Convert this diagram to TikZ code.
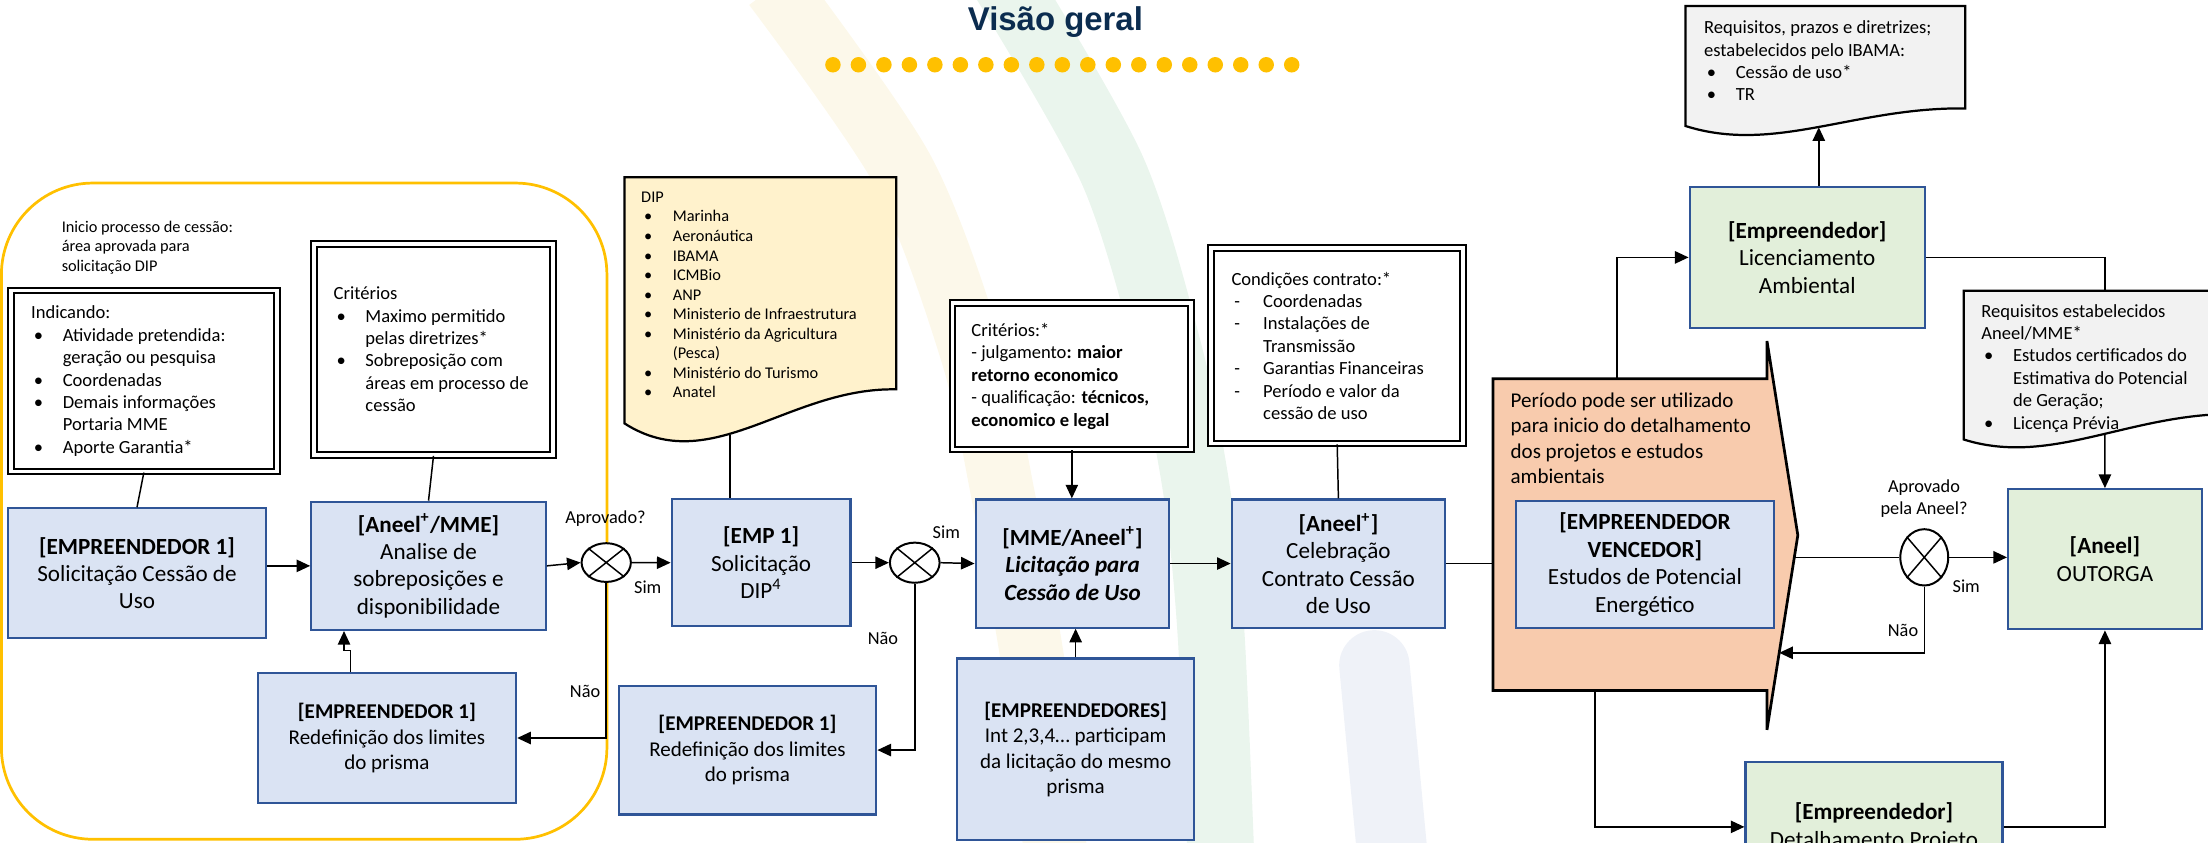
\documentclass[tikz,border=0pt]{standalone}
\usepackage{fontspec}
\setmainfont{Carlito}
\newfontfamily\headfont{Liberation Sans}
\usetikzlibrary{arrows.meta,positioning,shapes.geometric}

\definecolor{boxblue}{HTML}{DAE3F3}
\definecolor{boxgreen}{HTML}{E2EFDA}
\definecolor{boxorange}{HTML}{F8CBAD}
\definecolor{edgeblue}{HTML}{2F5597}
\definecolor{docyellow}{HTML}{FFF2CC}
\definecolor{docgray}{HTML}{F2F2F2}
\definecolor{goldline}{HTML}{FFC000}
\definecolor{navy}{HTML}{0B2C4F}
\definecolor{bandyellow}{HTML}{FCF8EA}
\definecolor{bandgreen}{HTML}{EAF5ED}
\definecolor{bandblue}{HTML}{EFF2F8}

\newcommand{\boxsize}{\fontsize{9.35}{11.1}\selectfont}
\newcommand{\redefsize}{\fontsize{8.5}{10.3}\selectfont}
\newcommand{\listsize}{\fontsize{7.5}{9.05}\selectfont}
\newcommand{\smallsize}{\fontsize{6.6}{7.9}\selectfont}
\newcommand{\notesize}{\fontsize{8.5}{10.3}\selectfont}
\newcommand{\tagsize}{\fontsize{7.4}{9}\selectfont}
\newcommand{\bul}{\makebox[0.45cm][l]{\hspace{0.04cm}\textbullet}}
\newcommand{\dsh}{\makebox[0.45cm][l]{\hspace{0.04cm}-}}
\newcommand{\ind}{\hspace*{0.45cm}}

\begin{document}
\begin{tikzpicture}[
    box/.style={draw=edgeblue, line width=0.9pt, fill=#1, font=\boxsize,
                align=center, inner sep=1pt},
    notebox/.style={draw, double, double distance=1.5pt, line width=0.8pt, fill=white},
    note/.style={font=\listsize, align=left, inner sep=0pt, anchor=west},
    doc/.style={draw, line width=0.9pt, fill=#1},
    decision/.style={draw, ellipse, line width=0.8pt, fill=white, inner sep=0pt},
    tag/.style={font=\tagsize, inner sep=0pt},
    link/.style={line width=0.6pt},
    arrow/.style={-{Triangle[length=5.5pt, width=5pt]}, line width=0.6pt},
  ]
    \useasboundingbox (0,0) rectangle (31.36,-11.96);
    \clip (0,0) rectangle (31.36,-11.96);

    % Background swooshes
    \draw[bandyellow, line width=0.9cm] plot[smooth] coordinates
      {(11.0,0.2) (12.82,-2.42) (13.8,-5.0) (14.24,-7.0) (14.7,-9.6) (15.0,-12.2)};
    \draw[bandgreen, line width=0.95cm] plot[smooth] coordinates
      {(14.25,0.3) (15.8,-2.42) (16.6,-5.0) (17.0,-7.0) (17.2,-9.0) (17.34,-12.2)};
    \draw[bandblue, line width=1cm, line cap=round] (19.52,-9.45) -- (19.8,-12.4);

    % Title
    \node[font=\headfont\bfseries\fontsize{13.3}{16}\selectfont, text=navy, anchor=base]
      (title) at (14.99,-0.43) {Visão geral};
    \foreach \i in {0,...,18}
      \fill[goldline] ({11.83+0.362*\i},-0.92) circle (0.11);

    % Start of the process (yellow frame)
    \draw[goldline, line width=1.1pt, rounded corners=1.3cm] (0.02,-2.6) rectangle (8.62,-11.92);
    \node[note, font=\smallsize] (start) at (0.87,-3.514)
      {Inicio processo de cessão:\\ área aprovada para\\ solicitação DIP};

    \node[notebox, minimum width=3.78cm, minimum height=2.57cm] (indic) at (2.043,-5.413) {};
    \node[note] at ([xshift=0.296cm]indic.west)
      {Indicando:\\ \bul Atividade pretendida:\\ \ind geração ou pesquisa\\ \bul Coordenadas\\
       \bul Demais informações\\ \ind Portaria MME\\ \bul Aporte Garantia*};

    \node[notebox, minimum width=3.40cm, minimum height=3.00cm] (crit1) at (6.157,-4.961) {};
    \node[note] at ([xshift=0.29cm]crit1.west)
      {Critérios\\ \bul Maximo permitido\\ \ind pelas diretrizes*\\ \bul Sobreposição com\\
       \ind áreas em processo de\\ \ind cessão};

    \node[box=boxblue, minimum width=3.67cm, minimum height=1.84cm] (emp1) at (1.946,-8.14)
      {\textbf{[EMPREENDEDOR 1]}\\Solicitação Cessão de\\Uso};
    \node[box=boxblue, minimum width=3.33cm, minimum height=1.82cm] (aneel1) at (6.086,-8.037)
      {\textbf{[Aneel\textsuperscript{+}/MME]}\\Analise de\\sobreposições e\\disponibilidade};
    \node[box=boxblue, font=\redefsize, minimum width=3.67cm, minimum height=1.84cm]
      (redef1) at (5.495,-10.482) {\textbf{[EMPREENDEDOR 1]}\\Redefinição dos limites\\do prisma};
    \node[decision, minimum width=0.70cm, minimum height=0.55cm] (chk1) at (8.61,-7.99) {};
    \draw[link] (chk1.north east) -- (chk1.south west) (chk1.north west) -- (chk1.south east);

    % DIP request
    \draw[doc=docyellow] (8.87,-2.518) -- (12.728,-2.518) -- (12.728,-5.53)
      .. controls (11.2,-5.5) and (10.1,-6.8) .. (8.87,-6.014) -- cycle;
    \coordinate (dipfoot) at (10.366,-6.176);
    \node[note, font=\smallsize] (diplist) at (9.10,-4.19)
      {DIP\\ \bul Marinha\\ \bul Aeronáutica\\ \bul IBAMA\\ \bul ICMBio\\ \bul ANP\\
       \bul Ministerio de Infraestrutura\\ \bul Ministério da Agricultura\\ \ind (Pesca)\\
       \bul Ministério do Turismo\\ \bul Anatel};

    \node[box=boxblue, minimum width=2.54cm, minimum height=1.80cm] (dipreq) at (10.81,-7.992)
      {\textbf{[EMP 1]}\\Solicitação\\DIP\textsuperscript{4}};
    \node[box=boxblue, font=\redefsize, minimum width=3.66cm, minimum height=1.83cm]
      (redef2) at (10.616,-10.653) {\textbf{[EMPREENDEDOR 1]}\\Redefinição dos limites\\do prisma};
    \node[decision, minimum width=0.706cm, minimum height=0.57cm] (chk2) at (12.992,-7.992) {};
    \draw[link] (chk2.north east) -- (chk2.south west) (chk2.north west) -- (chk2.south east);

    % Bidding
    \node[notebox, minimum width=3.39cm, minimum height=2.08cm] (crit2) at (15.223,-5.344) {};
    \node[note] at ([xshift=0.276cm]crit2.west)
      {Critérios:*\\ - julgamento\textbf{: maior}\\ \textbf{retorno economico}\\
       - qualificação: \textbf{técnicos,}\\ \textbf{economico e legal}};
    \node[box=boxblue, minimum width=2.75cm, minimum height=1.82cm] (licit) at (15.233,-8.004)
      {\textbf{[MME/Aneel\textsuperscript{+}]}\\\textbf{\textit{Licitação para}}\\\textbf{\textit{Cessão de Uso}}};
    \node[box=boxblue, font=\redefsize, minimum width=3.37cm, minimum height=2.58cm]
      (bidders) at (15.277,-10.642)
      {\textbf{[EMPREENDEDORES]}\\Int 2,3,4… participam\\da licitação do mesmo\\prisma};

    % Contract
    \node[notebox, minimum width=3.58cm, minimum height=2.77cm] (cond) at (18.992,-4.912) {};
    \node[note] at ([xshift=0.296cm]cond.west)
      {Condições contrato:*\\ \dsh Coordenadas\\ \dsh Instalações de\\ \ind Transmissão\\
       \dsh Garantias Financeiras\\ \dsh Período e valor da\\ \ind cessão de uso};
    \node[box=boxblue, minimum width=3.03cm, minimum height=1.82cm] (contract) at (19.009,-8.004)
      {\textbf{[Aneel\textsuperscript{+}]}\\Celebração\\Contrato Cessão\\de Uso};

    % Studies period
    \draw[fill=boxorange, line width=1.1pt] (21.206,-5.378) -- (25.096,-5.378) -- (25.096,-4.844)
      -- (25.534,-7.602) -- (25.096,-10.366) -- (25.096,-9.806) -- (21.206,-9.806) -- cycle;
    \coordinate (oleft)  at (21.206,-8.004);
    \coordinate (otop)   at (22.966,-5.378);
    \coordinate (obot)   at (22.656,-9.806);
    \coordinate (oright) at (25.484,-7.916);
    \coordinate (oback)  at (25.27,-9.272);
    \node[note, font=\notesize] (period) at (21.448,-6.224)
      {Período pode ser utilizado\\ para inicio do detalhamento\\ dos projetos e estudos\\ ambientais};
    \node[box=boxblue, minimum width=3.66cm, minimum height=1.81cm] (winner) at (23.362,-8.018)
      {\textbf{[EMPREENDEDOR}\\\textbf{VENCEDOR]}\\Estudos de Potencial\\Energético};

    % Licensing and grant
    \draw[doc=docgray] (23.94,-0.086) -- (27.912,-0.086) -- (27.912,-1.54)
      .. controls (26.34,-1.52) and (25.2,-2.19) .. (23.94,-1.79) -- cycle;
    \coordinate (ibfoot) at (25.832,-1.808);
    \node[note] (ibama) at (24.196,-0.864)
      {Requisitos, prazos e diretrizes;\\ estabelecidos pelo IBAMA:\\ \bul Cessão de uso*\\ \bul TR};
    \node[box=boxgreen, minimum width=3.34cm, minimum height=2.01cm] (license) at (25.668,-3.656)
      {\textbf{[Empreendedor]}\\Licenciamento\\Ambiental};

    \draw[doc=docgray] (27.89,-4.13) -- (31.83,-4.13) -- (31.83,-5.88)
      .. controls (30.28,-5.84) and (29.15,-6.64) .. (27.89,-6.242) -- cycle;
    \coordinate (antop)  at (29.894,-4.13);
    \coordinate (anfoot) at (29.894,-6.18);
    \node[note] (aneelreq) at (28.134,-5.23)
      {Requisitos estabelecidos\\ Aneel/MME*\\ \bul Estudos certificados do\\
       \ind Estimativa do Potencial\\ \ind de Geração;\\ \bul Licença Prévia};

    \node[decision, minimum width=0.68cm, minimum height=0.80cm] (chk3) at (27.33,-7.916) {};
    \draw[link] (chk3.north east) -- (chk3.south west) (chk3.north west) -- (chk3.south east);
    \node[box=boxgreen, minimum width=2.75cm, minimum height=1.99cm] (grant) at (29.896,-7.943)
      {\textbf{[Aneel]}\\OUTORGA};
    \node[box=boxgreen, minimum width=3.65cm, minimum height=1.84cm] (design) at (26.616,-11.744)
      {\textbf{[Empreendedor]}\\Detalhamento Projeto};

    % Arrows
    \draw[link] (indic.south) -- (emp1.north);
    \draw[link] (crit1.south) -- (aneel1.north);
    \draw[arrow] (emp1.east |- aneel1.west) -- (aneel1.west);
    \draw[arrow] (aneel1.east) -- (chk1.west);
    \draw[arrow] (chk1.east) -- (dipreq.west);
    \draw[arrow] (chk1.south) |- (redef1.east);
    \draw[arrow] ([xshift=-0.515cm]redef1.north) -- ++(0,0.31) -| ([xshift=-1.2cm]aneel1.south);
    \draw[link] (dipfoot) -- (dipfoot |- dipreq.north);
    \draw[arrow] (dipreq.east) -- (chk2.west);
    \draw[arrow] (chk2.east) -- (licit.west);
    \draw[arrow] (chk2.south) |- (redef2.east);
    \draw[arrow] (crit2.south) -- (crit2.south |- licit.north);
    \draw[arrow] (bidders.north) -- (bidders.north |- licit.south);
    \draw[arrow] (licit.east) -- (contract.west);
    \draw[link] (cond.south) -- (contract.north);
    \draw[link] (contract.east) -- (oleft);
    \draw[arrow] (otop) |- (license.west);
    \draw[arrow] (license.north -| ibfoot) -- (ibfoot);
    \draw[link] (license.east) -| (antop);
    \draw[arrow] (anfoot) -- (grant.north);
    \draw[link] (oright) -- (chk3.west);
    \draw[arrow] (chk3.east) -- (chk3.east -| grant.west);
    \draw[arrow] (chk3.south) |- (oback);
    \draw[arrow] (obot) |- (design.west);
    \draw[arrow] (design.east) -| (grant.south);

    % Labels
    \node[tag] (ask1) at (8.6,-7.36) {Aprovado?};
    \node[tag] (yes1) at (9.2,-8.334) {Sim};
    \node[tag] (no1)  at (8.31,-9.824) {Não};
    \node[tag] (yes2) at (13.44,-7.566) {Sim};
    \node[tag] (no2)  at (12.54,-9.068) {Não};
    \node[tag, align=center] (ask3) at (27.326,-7.08) {Aprovado\\pela Aneel?};
    \node[tag] (yes3) at (27.926,-8.33) {Sim};
    \node[tag] (no3)  at (27.028,-8.956) {Não};
\end{tikzpicture}
\end{document}
